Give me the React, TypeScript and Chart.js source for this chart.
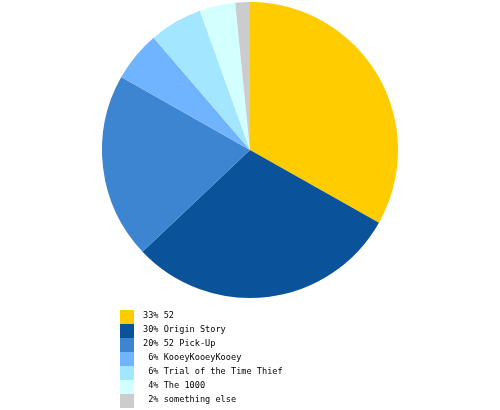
import { useEffect, useRef } from 'react';
import Chart from 'chart.js/auto';

const labels = ['52', 'Origin Story', '52 Pick-Up', 'KooeyKooeyKooey', 'Trial of the Time Thief', 'The 1000', 'something else'];
const values = [33.2, 29.8, 20.3, 5.5, 5.8, 3.9, 1.6];
const percentLabels = ['33%', '30%', '20%', '6%', '6%', '4%', '2%'];
const colors = ['#ffcc00', '#0a5299', '#3d85d1', '#70b4ff', '#a2e6ff', '#d2ffff', '#cccccc'];

const App = () => {
  const chartRef = useRef<HTMLCanvasElement>(null);
  const chartInstance = useRef<Chart | null>(null);

  useEffect(() => {
    if (!chartRef.current) return;
    if (chartInstance.current) chartInstance.current.destroy();

    chartInstance.current = new Chart(chartRef.current, {
      type: 'pie',
      data: {
        labels,
        datasets: [
          {
            data: values,
            backgroundColor: colors,
            borderWidth: 0,
          },
        ],
      },
      options: {
        animation: false,
        responsive: false,
        layout: {
          padding: { top: 2, bottom: 112, left: 102, right: 102 },
        },
        plugins: {
          legend: { display: false },
          tooltip: { enabled: false },
        },
      },
    });

    return () => {
      if (chartInstance.current) {
        chartInstance.current.destroy();
        chartInstance.current = null;
      }
    };
  }, []);

  return (
    <div style={{ position: 'absolute', left: 0, top: 0, width: 500, height: 410, background: '#fff' }}>
      <canvas ref={chartRef} width={500} height={410} style={{ position: 'absolute', left: 0, top: 0 }}></canvas>
      {labels.map((label, i) => (
        <div key={label} style={{ position: 'absolute', left: 120, top: 310 + i * 14, height: 14, display: 'flex', alignItems: 'center' }}>
          <div style={{ width: 14, height: 14, background: colors[i] }}></div>
          <div
            style={{
              marginLeft: 9,
              position: 'relative',
              top: -2.5,
              fontFamily: '"DejaVu Sans Mono", monospace',
              fontSize: 8.6,
              whiteSpace: 'pre',
              color: '#000',
            }}
          >
            {percentLabels[i].padStart(3, ' ') + ' ' + label}
          </div>
        </div>
      ))}
    </div>
  );
};

export default App;
